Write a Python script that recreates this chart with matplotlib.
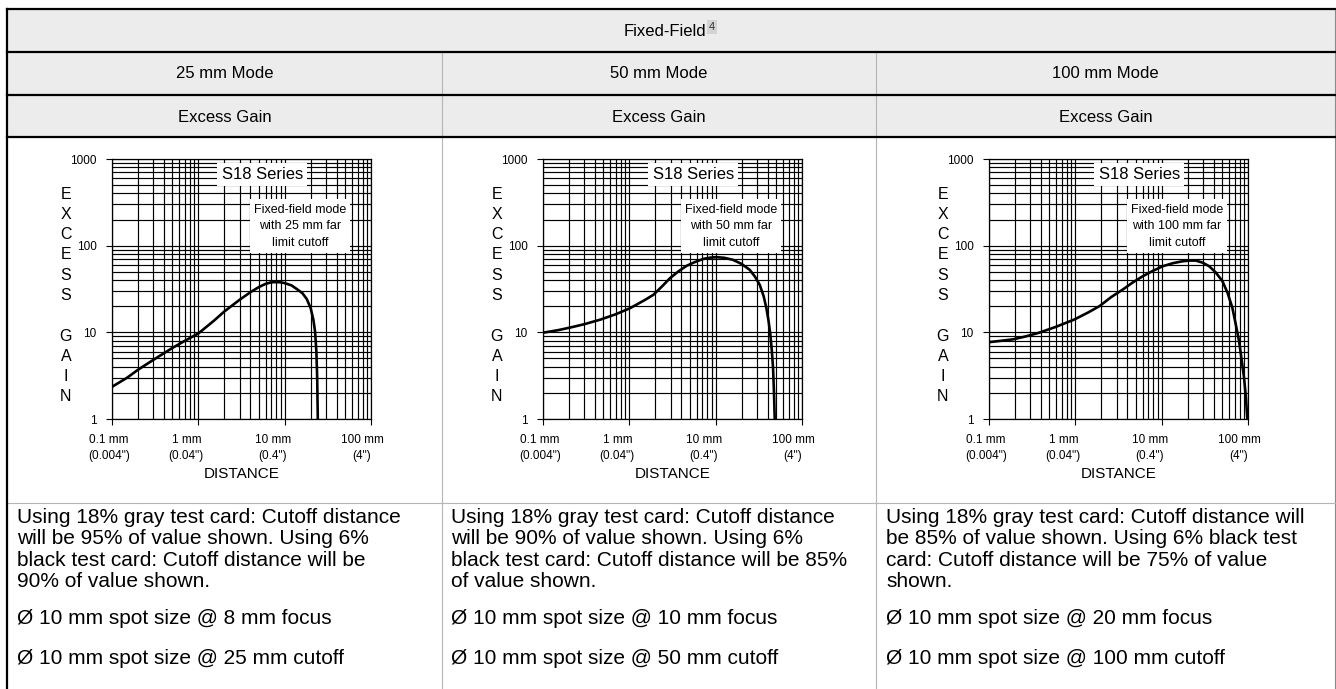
import matplotlib
matplotlib.use("Agg")
import matplotlib.pyplot as plt
from matplotlib import font_manager
from matplotlib.patches import Rectangle
from matplotlib.transforms import ScaledTranslation

# valores (distancia em mm, ganho)
dist_25 = [0.1, 0.15, 0.2, 0.3, 0.5, 0.7, 1, 1.5, 2, 3, 4, 5, 6, 7, 8, 9, 10, 12, 14, 16, 18, 20, 21.5, 22.5, 23.3, 23.8, 24.2]
gain_25 = [2.35, 3.0, 3.7, 4.8, 6.6, 8.0, 9.7, 13.5, 17.4, 23.7, 29.0, 33.2, 36.2, 37.8, 38.0, 37.7, 37.0, 34.8, 31.3, 28.4, 24.3, 19.0, 14.0, 10.2, 6.0, 3.0, 1.0]

dist_50 = [0.1, 0.15, 0.21, 0.3, 0.46, 0.7, 1.02, 1.5, 1.9, 2.4, 2.96, 3.7, 4.6, 5.8, 7.2, 8.7, 10.2, 12.5, 15.9, 20, 24.8, 28.5, 32.4, 36, 38.7, 41, 43, 44.8, 46.2, 47.4, 48.3]
gain_50 = [9.9, 10.6, 11.4, 12.4, 14.0, 16.2, 19.0, 23.5, 27.1, 34.0, 42.2, 50.5, 58.5, 65.0, 70.4, 72.8, 73.6, 72.5, 68.6, 61.5, 52.6, 44.0, 35.3, 26.0, 19.0, 13.5, 9.4, 6.0, 3.87, 2.0, 1.0]

dist_100 = [0.1, 0.14, 0.19, 0.27, 0.38, 0.6, 0.98, 1.4, 1.91, 2.6, 3.55, 4.6, 6.04, 8.0, 10.3, 13.5, 17.5, 21, 24.9, 30, 35.5, 42, 50.6, 58, 65.9, 72, 78.7, 84, 90, 94.5, 98.2]
gain_100 = [7.7, 8.0, 8.3, 9.0, 9.9, 11.6, 14.1, 16.9, 20.1, 25.5, 31.2, 37.5, 44.4, 51.5, 57.9, 62.8, 66.1, 67.3, 67.3, 63.5, 57.9, 49.5, 38.9, 28.5, 19.2, 12.5, 7.95, 5.0, 3.0, 1.8, 1.0]

modes = ["25 mm Mode", "50 mm Mode", "100 mm Mode"]
box_texts = ["Fixed-field mode\nwith 25 mm far\nlimit cutoff",
             "Fixed-field mode\nwith 50 mm far\nlimit cutoff",
             "Fixed-field mode\nwith 100 mm far\nlimit cutoff"]
notes = ["Using 18% gray test card: Cutoff distance\nwill be 95% of value shown. Using 6%\nblack test card: Cutoff distance will be\n90% of value shown.",
         "Using 18% gray test card: Cutoff distance\nwill be 90% of value shown. Using 6%\nblack test card: Cutoff distance will be 85%\nof value shown.",
         "Using 18% gray test card: Cutoff distance will\nbe 85% of value shown. Using 6% black test\ncard: Cutoff distance will be 75% of value\nshown."]
focus = ["Ø 10 mm spot size @ 8 mm focus",
         "Ø 10 mm spot size @ 10 mm focus",
         "Ø 10 mm spot size @ 20 mm focus"]
cutoffs = ["Ø 10 mm spot size @ 25 mm cutoff",
           "Ø 10 mm spot size @ 50 mm cutoff",
           "Ø 10 mm spot size @ 100 mm cutoff"]
xtick_vals = [0.1, 1, 10, 100]
xtick_labels = ['0.1 mm\n(0.004")', '1 mm\n(0.04")', '10 mm\n(0.4")', '100 mm\n(4")']
ytick_vals = [1, 10, 100, 1000]
ytick_labels = ["1", "10", "100", "1000"]

names = {f.name for f in font_manager.fontManager.ttflist}
NARROW = "Liberation Sans Narrow" if "Liberation Sans Narrow" in names else "Liberation Sans"
BODY = "Liberation Sans"

W, H = 1336, 689


def tabela(fig):
    bg = fig.add_axes([0, 0, 1, 1], zorder=0)
    bg.set_xlim(0, W)
    bg.set_ylim(H, 0)
    bg.axis("off")

    bg.add_patch(Rectangle((7, 9), 1328, 128, facecolor="#ececec", edgecolor="none"))
    cinza = "#b5b5b5"
    for x in [442, 876]:
        bg.plot([x, x], [52, H], color=cinza, lw=0.8)
    bg.plot([1335, 1335], [9, H], color="#8a8a8a", lw=0.8)
    bg.plot([7, 1335], [503, 503], color=cinza, lw=0.8)
    for y in [9, 52, 95, 137]:
        bg.plot([7, 1335], [y, y], color="black", lw=1.6)
    bg.plot([7, 7], [9, H], color="black", lw=1.6)

    bg.text(665, 31, "Fixed-Field", ha="center", va="center", fontsize=12, family=BODY)
    bg.text(712, 27, "4", ha="center", va="center", fontsize=8, family=BODY, color="#333333",
            bbox=dict(facecolor="#d4d4d4", edgecolor="none", pad=1.2))

    centros = [224.5, 659, 1105.5]
    esquerdas = [17, 451, 886]
    for i in range(3):
        bg.text(centros[i], 74, modes[i], ha="center", va="center", fontsize=12, family=BODY)
        bg.text(centros[i], 117, "Excess Gain", ha="center", va="center", fontsize=12, family=BODY)
        bg.text(esquerdas[i], 508, notes[i], ha="left", va="top", fontsize=15, family=BODY,
                linespacing=1.155)
        bg.text(esquerdas[i], 618, focus[i], ha="left", va="center", fontsize=15, family=BODY)
        bg.text(esquerdas[i], 659, cutoffs[i], ha="left", va="center", fontsize=15, family=BODY)


def grafico(fig, left, dist, gain, caixa):
    ax = fig.add_axes([left / W, (H - 419) / H, 259 / W, 260 / H], zorder=2)
    ax.plot(dist, gain, color="black", lw=1.9, solid_capstyle="butt", zorder=3)
    ax.set_xscale("log")
    ax.set_yscale("log")
    ax.set_xlim(0.1, 100)
    ax.set_ylim(1, 1000)
    ax.grid(True, which="both", color="black", lw=0.85)
    ax.set_axisbelow(True)
    for s in ax.spines.values():
        s.set_linewidth(0.9)

    ax.set_xticks(xtick_vals)
    ax.set_xticklabels(xtick_labels)
    ax.set_yticks(ytick_vals)
    ax.set_yticklabels(ytick_labels)
    ax.tick_params(which="major", direction="out", length=4, width=0.8, pad=6.5,
                   labelsize=8.5)
    ax.tick_params(which="minor", length=0)
    ax.tick_params(axis="y", pad=7)
    desloc = [-3, -12, -12, -9]
    for lab, d in zip(ax.get_xticklabels(), desloc):
        lab.set_family(NARROW)
        lab.set_linespacing(1.45)
        lab.set_transform(lab.get_transform() + ScaledTranslation(d / 100, 0, fig.dpi_scale_trans))
    for lab in ax.get_yticklabels():
        lab.set_family(NARROW)

    ax.set_xlabel("DISTANCE", fontsize=11, family=NARROW)
    ax.xaxis.set_label_coords(0.5, -0.212)
    ax.xaxis.label.set_va("center")
    ax.set_ylabel("E\nX\nC\nE\nS\nS\n\nG\nA\nI\nN", rotation=0, fontsize=11.5, family=NARROW,
                  linespacing=1.44, ha="center", va="center")
    ax.yaxis.set_label_coords(-0.178, 0.475)

    ax.text(0.58, 0.94, "S18 Series", transform=ax.transAxes, ha="center", va="center",
            fontsize=12, family=NARROW, zorder=4,
            bbox=dict(facecolor="white", edgecolor="none", pad=3))
    ax.text(0.726, 0.742, caixa, transform=ax.transAxes, ha="center", va="center",
            fontsize=9, family=NARROW, linespacing=1.5, zorder=4,
            bbox=dict(facecolor="white", edgecolor="none", pad=3))
    return ax


def main():
    fig = plt.figure(figsize=(W / 100, H / 100), dpi=100)
    tabela(fig)
    grafico(fig, 112, dist_25, gain_25, box_texts[0])
    grafico(fig, 543, dist_50, gain_50, box_texts[1])
    grafico(fig, 989, dist_100, gain_100, box_texts[2])
    fig.savefig("out.png", dpi=100)


if __name__ == "__main__":
    main()
